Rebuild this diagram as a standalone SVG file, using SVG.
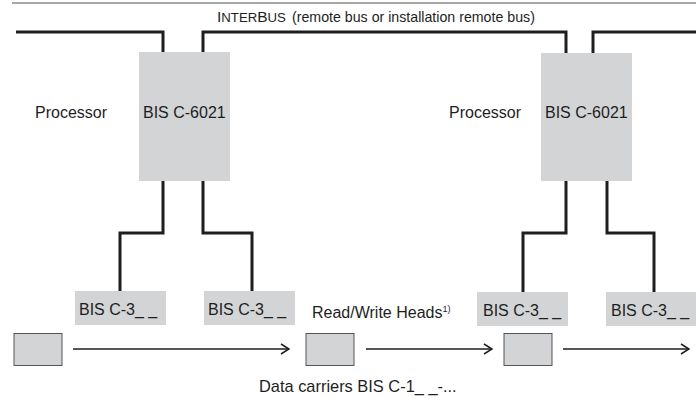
<svg xmlns="http://www.w3.org/2000/svg" width="696" height="398" viewBox="0 0 696 398">
<style>
.t{font-family:"Liberation Sans",Arial,sans-serif;font-size:16px;fill:#1e1e1e}
.bus{fill:none;stroke:#1e1e1e;stroke-width:3;stroke-linejoin:miter}
.arr{fill:none;stroke:#1e1e1e;stroke-width:1.4}
.box{fill:#d3d4d6}
.dc{fill:#d3d4d6;stroke:#555;stroke-width:1}
</style>
<defs>
<marker id="ah" viewBox="0 0 10 12" refX="9" refY="6" markerWidth="10" markerHeight="12" markerUnits="userSpaceOnUse" orient="auto">
<path d="M1,1 L9,6 L1,11" fill="none" stroke="#1e1e1e" stroke-width="1.5"/>
</marker>
</defs>
<line x1="12" y1="3" x2="696" y2="3" stroke="#8a8a8a" stroke-width="1.5"/>
<text class="t" x="217" y="22" style="font-size:14.2px"><tspan style="font-size:15.5px">I</tspan><tspan style="font-size:13.2px">NTER</tspan><tspan style="font-size:15.5px">B</tspan><tspan style="font-size:13.2px">US</tspan></text>
<text class="t" x="292" y="22" style="font-size:14.2px">(remote bus or installation remote bus)</text>
<g id="connectors">
<polyline class="bus" points="16,32 163,32 163,52"/>
<polyline class="bus" points="203,52 203,32 566,32 566,53"/>
<polyline class="bus" points="593,53 593,32 696,32"/>
<polyline class="bus" points="163,181 163,233 120,233 120,291"/>
<polyline class="bus" points="203,181 203,233 252,233 252,291"/>
<polyline class="bus" points="566,181 566,233 523,233 523,292"/>
<polyline class="bus" points="607,181 607,233 654,233 654,292"/>
<line class="arr" x1="73" y1="349" x2="289" y2="349" marker-end="url(#ah)"/>
<line class="arr" x1="366" y1="349" x2="492" y2="349" marker-end="url(#ah)"/>
<line class="arr" x1="563" y1="349" x2="689" y2="349" marker-end="url(#ah)"/>
</g>
<g id="proc1">
<text class="t" x="35" y="118">Processor</text>
</g>
<g id="bis6021a">
<rect class="box" x="139" y="52" width="91" height="129"/>
<text class="t" x="143" y="118">BIS C-6021</text>
</g>
<g id="proc2">
<text class="t" x="449" y="118">Processor</text>
</g>
<g id="bis6021b">
<rect class="box" x="541" y="53" width="91" height="128"/>
<text class="t" x="545" y="118">BIS C-6021</text>
</g>
<g id="head1">
<rect class="box" x="75" y="291" width="91" height="34"/>
<text class="t" x="79" y="315">BIS C-3_ _</text>
</g>
<g id="head2">
<rect class="box" x="204" y="291" width="91" height="34"/>
<text class="t" x="208" y="315">BIS C-3_ _</text>
</g>
<g id="head3">
<rect class="box" x="477" y="292" width="91" height="34"/>
<text class="t" x="483" y="316">BIS C-3_ _</text>
</g>
<g id="head4">
<rect class="box" x="606" y="292" width="91" height="34"/>
<text class="t" x="611" y="316">BIS C-3_ _</text>
</g>
<g id="rwlabel">
<text class="t" x="312" y="318">Read/Write Heads<tspan dy="-6" style="font-size:9px">1)</tspan></text>
</g>
<g id="dc1"><rect class="dc" x="14" y="333.5" width="48" height="32"/></g>
<g id="dc2"><rect class="dc" x="306" y="333.5" width="48" height="32"/></g>
<g id="dc3"><rect class="dc" x="504" y="333.5" width="48" height="32"/></g>
<g id="dclabel">
<text class="t" x="259" y="392" style="font-size:16.4px">Data carriers BIS C-1_ _-...</text>
</g>
</svg>
